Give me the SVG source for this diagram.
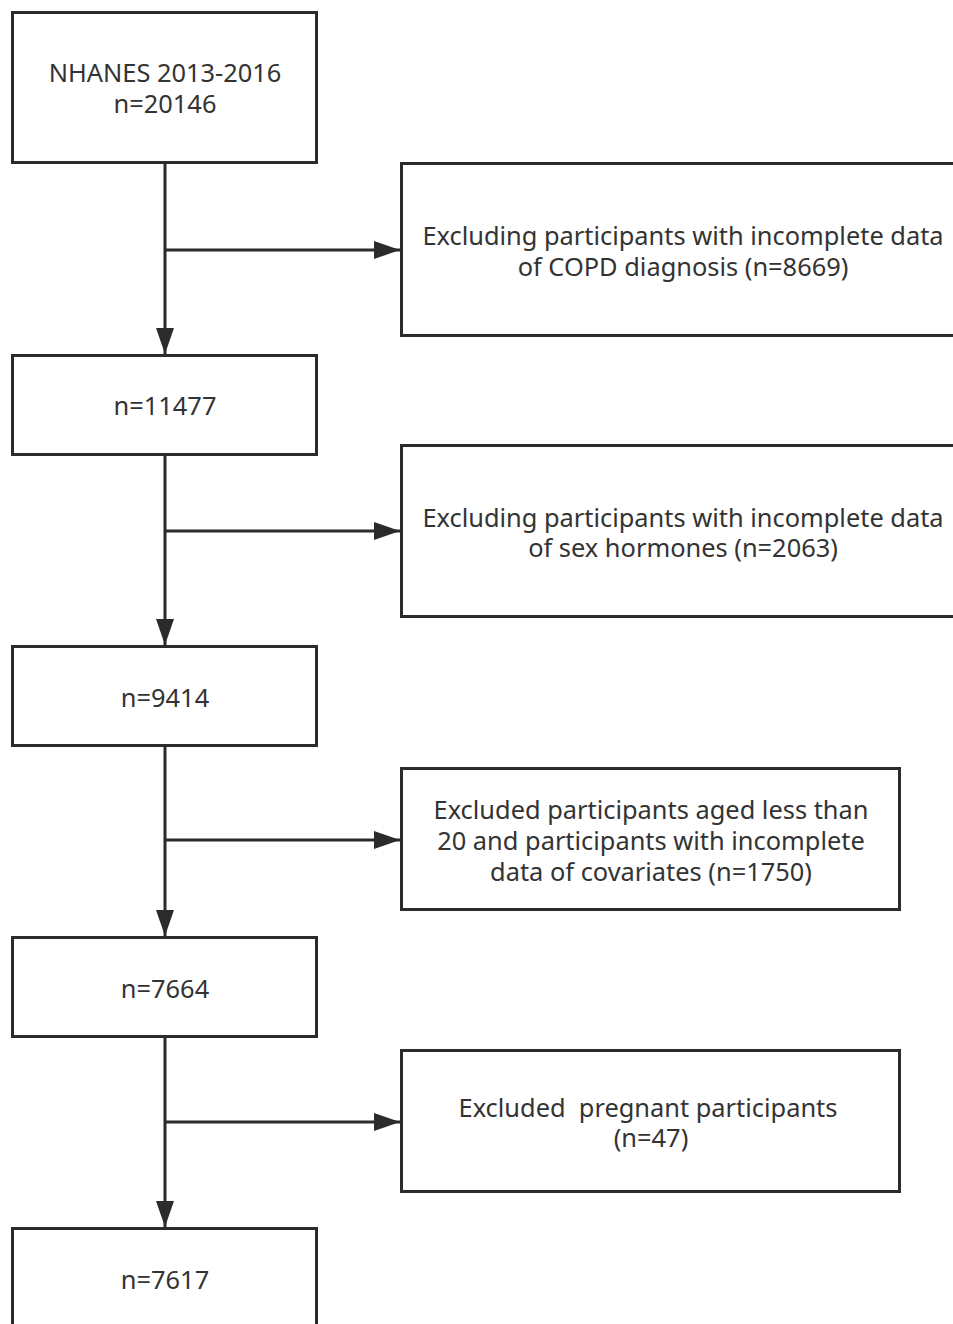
<svg xmlns="http://www.w3.org/2000/svg" width="953" height="1324" viewBox="0 0 953 1324">
<style>
.box{fill:#fff;stroke:#2b2b2b;stroke-width:3}
.t{font-family:"Noto Sans","Open Sans","DejaVu Sans",sans-serif;font-size:25.4px;fill:#333;text-anchor:middle}
.ln{stroke:#2b2b2b;stroke-width:3;fill:none}
</style>
<defs>
<marker id="ah" markerWidth="26" markerHeight="18" refX="26" refY="9" orient="auto" markerUnits="userSpaceOnUse">
<path d="M0,0 L26,9 L0,18 Z" fill="#2b2b2b"/>
</marker>
</defs>
<rect width="953" height="1324" fill="#fff"/>
<g id="connectors">
<line class="ln" x1="165" y1="163" x2="165" y2="354" marker-end="url(#ah)"/>
<line class="ln" x1="165" y1="250" x2="400" y2="250" marker-end="url(#ah)"/>
<line class="ln" x1="165" y1="455" x2="165" y2="645" marker-end="url(#ah)"/>
<line class="ln" x1="165" y1="531" x2="400" y2="531" marker-end="url(#ah)"/>
<line class="ln" x1="165" y1="746" x2="165" y2="936" marker-end="url(#ah)"/>
<line class="ln" x1="165" y1="840" x2="400" y2="840" marker-end="url(#ah)"/>
<line class="ln" x1="165" y1="1037" x2="165" y2="1227" marker-end="url(#ah)"/>
<line class="ln" x1="165" y1="1122" x2="400" y2="1122" marker-end="url(#ah)"/>
</g>
<g id="n1"><rect class="box" x="12.5" y="12.5" width="304" height="150"/>
<text class="t" x="165" y="82">NHANES 2013-2016</text><text class="t" x="165" y="113">n=20146</text></g>
<g id="e1"><rect class="box" x="401.5" y="163.5" width="560" height="172"/>
<text class="t" x="683" y="245">Excluding participants with incomplete data</text><text class="t" x="683" y="276">of COPD diagnosis (n=8669)</text></g>
<g id="n2"><rect class="box" x="12.5" y="355.5" width="304" height="99"/>
<text class="t" x="165" y="415">n=11477</text></g>
<g id="e2"><rect class="box" x="401.5" y="445.5" width="560" height="171"/>
<text class="t" x="683" y="527">Excluding participants with incomplete data</text><text class="t" x="683" y="557">of sex hormones (n=2063)</text></g>
<g id="n3"><rect class="box" x="12.5" y="646.5" width="304" height="99"/>
<text class="t" x="165" y="707">n=9414</text></g>
<g id="e3"><rect class="box" x="401.5" y="768.5" width="498" height="141"/>
<text class="t" x="651" y="819">Excluded participants aged less than</text><text class="t" x="651" y="850">20 and participants with incomplete</text><text class="t" x="651" y="881">data of covariates (n=1750)</text></g>
<g id="n4"><rect class="box" x="12.5" y="937.5" width="304" height="99"/>
<text class="t" x="165" y="998">n=7664</text></g>
<g id="e4"><rect class="box" x="401.5" y="1050.5" width="498" height="141"/>
<text class="t" x="648" y="1117" xml:space="preserve">Excluded  pregnant participants</text><text class="t" x="651" y="1147">(n=47)</text></g>
<g id="n5"><rect class="box" x="12.5" y="1228.5" width="304" height="110"/>
<text class="t" x="165" y="1289">n=7617</text></g>
</svg>
